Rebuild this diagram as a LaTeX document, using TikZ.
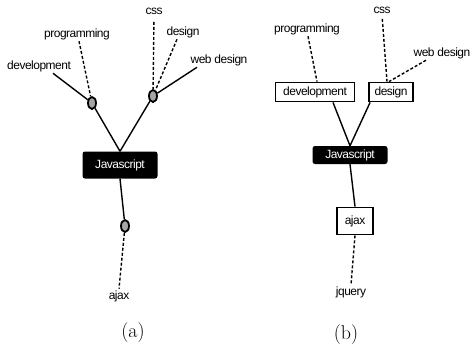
\documentclass[tikz,border=0pt]{standalone}
\usepackage{fontspec}
\newfontfamily\tagfont[LetterSpace=-4]{Liberation Sans}
\usetikzlibrary{shapes.geometric}

\tikzset{
  tag/.style={font=\tagfont\fontsize{12}{14}\selectfont, inner sep=1.5bp},
  hub/.style={ellipse, draw=black, line width=1.8bp, fill=gray!70, minimum width=8bp, minimum height=12bp, inner sep=0pt},
  jsbox/.style={rectangle, rounded corners=2.5bp, fill=black, text=white, font=\tagfont\fontsize{12}{14}\selectfont, minimum width=75bp, inner sep=0pt},
  termbox/.style={rectangle, draw=black, line width=1.8bp, fill=white, font=\tagfont\fontsize{12}{14}\selectfont, inner sep=0pt},
  link/.style={line width=1.4bp},
  weak/.style={line width=1.4bp, dash pattern=on 3bp off 2bp},
  caption/.style={font=\fontsize{20}{24}\selectfont}
}

\begin{document}
\begin{tikzpicture}[x=1bp,y=-1bp]
\useasboundingbox (0,0) rectangle (473,348);

% (a) tags hanging on the Javascript node
\node[jsbox, minimum height=27bp] (jsA) at (120,165) {Javascript};
\node[hub] (devhubA) at (92,103) {};
\node[hub] (deshubA) at (153,96) {};
\node[hub] (ajaxhubA) at (125,226) {};

\node[tag] (devA) at (39,66) {development};
\node[tag] (progA) at (77,34) {programming};
\node[tag] (cssA) at (154,11) {css};
\node[tag] (desA) at (183,32) {design};
\node[tag] (webA) at (219,60) {web design};
\node[tag] (ajaxA) at (119,296) {ajax};

\draw[link] (jsA.north) -- (devhubA);
\draw[link] (jsA.north) -- (deshubA);
\draw[link] (jsA.south) -- (ajaxhubA);
\draw[link] ([xshift=14bp]devA.south) -- (devhubA);
\draw[weak] ([xshift=2bp]progA.south) -- (devhubA);
\draw[weak, shorten <=6bp] (cssA.south) -- (deshubA);
\draw[weak] ([xshift=-6bp]desA.south) -- (deshubA);
\draw[link] ([xshift=-22bp]webA.south) -- (deshubA);
\draw[weak] (ajaxhubA) -- (ajaxA.north);

\node[caption] (capA) at (133,333) {(a)};

% (b) tags turned into boxes
\node[jsbox, minimum height=18bp] (jsB) at (350,155) {Javascript};
\node[termbox, minimum width=79bp, minimum height=19bp] (devB) at (315,92) {development};
\node[termbox, minimum width=44bp, minimum height=19bp] (desB) at (391,92) {design};
\node[termbox, minimum width=36bp, minimum height=27bp] (ajaxB) at (355,221) {ajax};

\node[tag] (progB) at (307,29) {programming};
\node[tag] (cssB) at (382,10) {css};
\node[tag, anchor=east] (webB) at (472,53) {web design};
\node[tag] (jqB) at (351,292) {jquery};

\draw[link] ([xshift=18bp]devB.south) -- (jsB.north);
\draw[link] ([xshift=2bp]desB.south west) -- (jsB.north);
\draw[link] (jsB.south) -- (ajaxB.north);
\draw[weak] (ajaxB.south) -- (jqB.north);
\draw[weak] ([xshift=1bp]progB.south) -- ([xshift=2bp]devB.north);
\draw[weak, shorten <=4bp] (cssB.south) -- ([xshift=-4bp]desB.north);
\draw[weak] ([xshift=-16bp]webB.south) -- ([xshift=-2bp]desB.north);

\node[caption] (capB) at (346,335) {(b)};

\end{tikzpicture}
\end{document}
